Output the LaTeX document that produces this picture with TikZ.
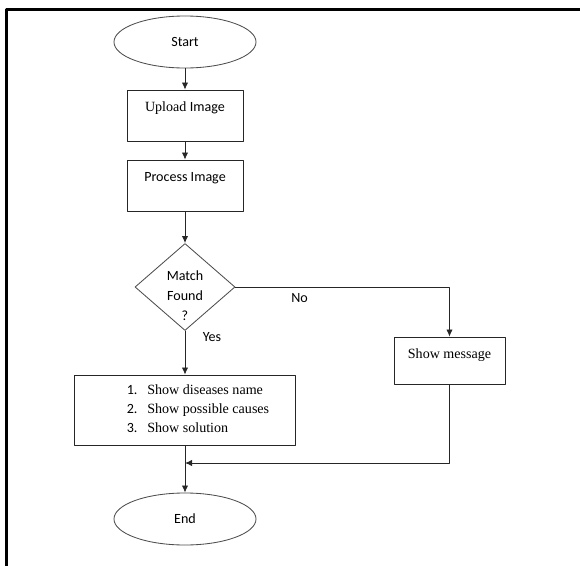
\documentclass[tikz,border=0pt]{standalone}
\usepackage{fontspec}
\setmainfont{Liberation Serif}
\newfontfamily\calib{Carlito}
\usetikzlibrary{shapes.geometric,arrows.meta}
\begin{document}
\begin{tikzpicture}[x=0.025cm,y=-0.025cm,line cap=round,line join=round,font=\fontsize{10}{12}\selectfont,
	term/.style={draw=black!70,line width=0.6pt,ellipse,minimum width=3.55cm,minimum height=1.3cm,font=\calib\fontsize{10}{12}\selectfont},
	proc/.style={draw=black!85,line width=0.6pt,rectangle,minimum width=2.9cm,minimum height=1.275cm,align=center,inner sep=0pt},
	decide/.style={draw=black!70,line width=0.6pt,diamond,minimum width=2.5cm,minimum height=2.175cm,inner sep=0pt},
	arr/.style={draw=black!85,line width=0.6pt,-{Latex[length=5pt,width=4.5pt]}}]
	\useasboundingbox (0,0) rectangle (580,566);
	\draw[line width=1.8pt] (6.5,566) -- (6.5,9.5) -- (580,9.5);
	\node[term] (start) at (185,42) {Start};
	\node[proc] (upload) at (185,115.5) {Upload {\calib Image}\\\mbox{}};
	\node[proc] (process) at (185,185.5) {{\calib Process Image}\\\mbox{}};
	\node[decide,label={[align=center,yshift=-0.22cm,font=\calib\fontsize{10}{14}\selectfont]center:Match\\Found\\?}] (match) at (185,287) {};
	\node[proc,minimum width=2.775cm,minimum height=1.175cm] (msg) at (449.5,360.5) {Show message\\[-2pt]\mbox{}};
	\node[proc,minimum width=5.525cm,minimum height=1.75cm] (result) at (185,410) {\hspace*{0.65cm}\def\arraystretch{1.12}\begin{tabular}{@{}r@{\hspace{7pt}}l@{}}
		{\calib 1.}&Show diseases name\\
		{\calib 2.}&Show possible causes\\
		{\calib 3.}&Show solution
	\end{tabular}};
	\node[term] (end) at (185,519) {End};
	\coordinate (merge) at (185,463);
	\draw[arr] (start) -- (upload);
	\draw[arr] (upload) -- (process);
	\draw[arr] (process) -- (match);
	\draw[arr] (match.south) -- node[pos=0.14,right=9pt,font=\calib]{Yes} (match.south |- result.north);
	\draw[arr] (match.east) -| node[pos=0.15,below=1pt,font=\calib]{No} (msg);
	\draw[arr] (result) -- (end);
	\draw[arr] (msg) |- (merge);
\end{tikzpicture}
\end{document}
